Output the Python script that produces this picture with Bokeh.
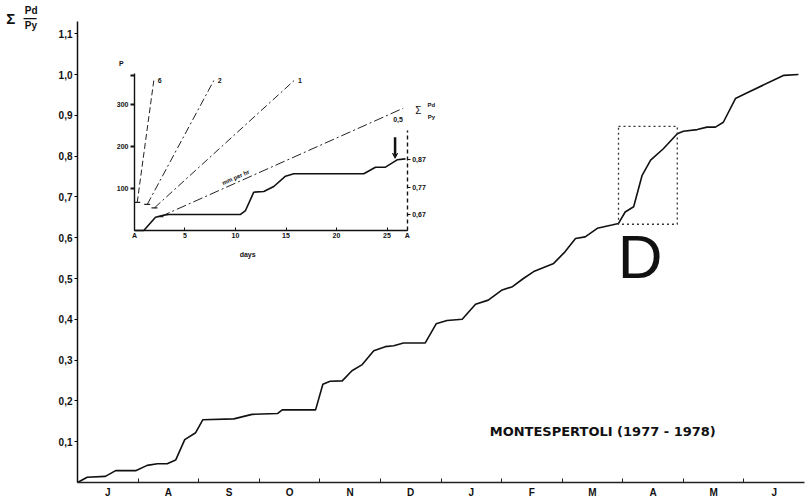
from bokeh.plotting import figure
from bokeh.models import (Range1d, FixedTicker, LinearAxis, Label, Arrow, VeeHead)
from bokeh.core.properties import value
from bokeh.embed import file_html
from bokeh.resources import INLINE

FONT = "Liberation Sans"
TITLE_FONT = "DejaVu Sans"
INK = "#111111"

# ---------------- data: main chart ----------------
months = ["J", "A", "S", "O", "N", "D", "J", "F", "M", "A", "M", "J"]
y_ticks = [0.1, 0.2, 0.3, 0.4, 0.5, 0.6, 0.7, 0.8, 0.9, 1.0, 1.1]
y_tick_labels = ["0,1", "0,2", "0,3", "0,4", "0,5", "0,6", "0,7", "0,8", "0,9", "1,0", "1,1"]

curve_month = [0.00, 0.16, 0.46, 0.63, 0.96, 1.15, 1.32, 1.48, 1.62, 1.77,
               1.95, 2.07, 2.58, 2.88, 3.30, 3.38, 3.93, 4.05, 4.17, 4.37,
               4.53, 4.70, 4.89, 5.08, 5.22, 5.38, 5.74, 5.92, 6.10, 6.35,
               6.57, 6.78, 7.01, 7.18, 7.36, 7.53, 7.86, 8.05, 8.22, 8.38,
               8.58, 8.82, 8.93, 9.04, 9.18, 9.32, 9.46, 9.67, 9.90, 10.00,
               10.23, 10.39, 10.53, 10.66, 10.86, 11.02, 11.66, 11.90]
curve_cum = [0.000, 0.013, 0.015, 0.029, 0.029, 0.042, 0.046, 0.046, 0.055, 0.105,
             0.122, 0.154, 0.156, 0.167, 0.169, 0.178, 0.178, 0.241, 0.248, 0.249,
             0.274, 0.289, 0.323, 0.333, 0.335, 0.342, 0.342, 0.389, 0.397, 0.400,
             0.437, 0.447, 0.472, 0.480, 0.500, 0.517, 0.537, 0.566, 0.598, 0.602,
             0.623, 0.631, 0.635, 0.663, 0.676, 0.753, 0.790, 0.818, 0.855, 0.861,
             0.865, 0.871, 0.871, 0.883, 0.941, 0.953, 0.998, 1.000]

box_month = [8.93, 9.90]
box_cum = [0.633, 0.873]
box_letter = "D"
station_title = "MONTESPERTOLI (1977 - 1978)"

# ---------------- data: inset ----------------
inset_day = [0.0, 0.92, 2.08, 2.74, 3.40, 10.50, 10.99, 11.81, 12.80, 13.79,
             14.95, 15.77, 22.70, 23.86, 24.85, 26.00, 26.83]
inset_P = [0.0, 0.0, 31.7, 35.7, 38.1, 38.1, 47.6, 91.2, 92.9, 104.8,
           129.3, 135.0, 135.0, 150.7, 150.7, 168.3, 170.6]

intensity_labels = ["6", "2", "1", "0,5"]
int_start_day = [0.27, 1.26, 1.98, 2.57]
int_start_P = [67.0, 62.0, 54.0, 33.0]
int_end_day = [1.91, 7.85, 15.80, 26.60]
int_end_P = [357.0, 357.0, 357.0, 291.0]

inset_P_ticks = [100, 200, 300, 370]
inset_P_labels = ["100", "200", "300", ""]
inset_day_ticks = [0, 5, 10, 15, 20, 25, 27]
inset_day_labels = ["A", "5", "10", "15", "20", "25", "A"]
sigma_ticks = [0.67, 0.77, 0.87]
sigma_labels = ["0,67", "0,77", "0,87"]

arrow_day = 25.8
arrow_top_P = 222.0
arrow_bottom_P = 172.0

# ---------------- figure (frame = whole canvas, axes at fixed locations) ----------------
p = figure(width=810, height=498,
           x_range=Range1d(-1.271, 12.099), y_range=Range1d(-0.0392, 1.1814),
           output_backend="svg", toolbar_location=None,
           min_border_left=0, min_border_right=0, min_border_top=0, min_border_bottom=0)
p.grid.visible = False
p.outline_line_color = None

# inset coordinate systems (placed inside the same canvas)
p.extra_x_ranges = {"days": Range1d(-13.267, 66.93)}
p.extra_y_ranges = {"P": Range1d(-638.1, 547.6), "sigma": Range1d(-0.3700, 1.4536)}

# main x axis
p.xaxis.fixed_location = 0
p.xaxis.bounds = (0, 12)
p.xaxis.ticker = FixedTicker(ticks=[i + 0.5 for i in range(len(months))],
                             minor_ticks=list(range(1, len(months))))
p.xaxis.major_label_overrides = {i + 0.5: m for i, m in enumerate(months)}
p.xaxis.major_tick_line_color = None
p.xaxis.major_tick_in = 0
p.xaxis.major_tick_out = 0
p.xaxis.minor_tick_in = 4
p.xaxis.minor_tick_out = 0
p.xaxis.minor_tick_line_color = "#222"
p.xaxis.major_label_standoff = 4
p.xaxis.axis_line_width = 1.3
p.xaxis.axis_line_color = "#222"

# main y axis
p.yaxis.fixed_location = 0
p.yaxis.bounds = (0, 1.13)
p.yaxis.ticker = FixedTicker(ticks=y_ticks)
p.yaxis.major_label_overrides = dict(zip(y_ticks, y_tick_labels))
p.yaxis.major_tick_in = 0
p.yaxis.major_tick_out = 3
p.yaxis.minor_tick_line_color = None
p.yaxis.major_label_standoff = 2
p.yaxis.axis_line_width = 1.5
p.yaxis.axis_line_color = INK

for ax in (p.xaxis[0], p.yaxis[0]):
    ax.major_label_text_font = FONT
    ax.major_label_text_font_style = "bold"
    ax.major_label_text_font_size = "10px"
    ax.major_label_text_color = INK

p.line(curve_month, curve_cum, line_color=INK, line_width=1.6)
p.quad(left=[box_month[0]], right=[box_month[1]], bottom=[box_cum[0]], top=[box_cum[1]],
       fill_alpha=0, line_color="#333", line_width=1.3, line_dash="2 3")

p.add_layout(Label(x=9.285, y=0.555, text=box_letter,
                   text_font=FONT, text_font_size="62px", text_align="center",
                   text_baseline="middle", text_color=INK))
p.add_layout(Label(x=8.67, y=0.126, text=station_title, text_font=TITLE_FONT,
                   text_font_style="bold", text_font_size="13px", text_align="center",
                   text_baseline="middle", text_color=INK))

# y-axis title (sum of Pd / Py)
p.add_layout(Label(x=-1.176, y=1.137, text="Σ", text_font=FONT, text_font_style="bold",
                   text_font_size="15px", text_baseline="middle", text_color=INK))
p.add_layout(Label(x=-0.87, y=1.157, text="Pd", text_font=FONT, text_font_style="bold",
                   text_font_size="10px", text_baseline="middle", text_color=INK))
p.add_layout(Label(x=-0.89, y=1.140, text="—", text_font=FONT, text_font_style="bold",
                   text_font_size="13px", text_baseline="middle", text_color=INK))
p.add_layout(Label(x=-0.87, y=1.121, text="Py", text_font=FONT, text_font_style="bold",
                   text_font_size="10px", text_baseline="middle", text_color=INK))

# ---------------- inset ----------------
ins_left = LinearAxis(x_range_name="days", y_range_name="P", fixed_location=0,
                      bounds=(0, 374), ticker=FixedTicker(ticks=inset_P_ticks))
ins_left.major_label_overrides = dict(zip(inset_P_ticks, inset_P_labels))
ins_left.major_tick_in = 0
ins_left.major_tick_out = 4
ins_left.major_tick_line_width = 2
p.add_layout(ins_left, "left")

ins_bottom = LinearAxis(x_range_name="days", y_range_name="P", fixed_location=0,
                        bounds=(0, 27), ticker=FixedTicker(ticks=inset_day_ticks))
ins_bottom.major_label_overrides = dict(zip(inset_day_ticks, inset_day_labels))
ins_bottom.major_tick_in = 3
ins_bottom.major_tick_out = 0
p.add_layout(ins_bottom, "below")

ins_right = LinearAxis(x_range_name="days", y_range_name="sigma", fixed_location=27,
                       bounds=(0.6114, 0.977), ticker=FixedTicker(ticks=sigma_ticks))
ins_right.major_label_overrides = dict(zip(sigma_ticks, sigma_labels))
ins_right.axis_line_dash = "4 3"
ins_right.major_tick_in = 0
ins_right.major_tick_out = 3
p.add_layout(ins_right, "right")

for ax in (ins_left, ins_bottom, ins_right):
    ax.minor_tick_line_color = None
    ax.major_label_text_font = FONT
    ax.major_label_text_font_style = "bold"
    ax.major_label_text_font_size = "7px"
    ax.major_label_text_color = INK
    ax.major_label_standoff = 2
    ax.axis_line_color = INK
    ax.axis_line_width = 1.4
    ax.major_tick_line_color = INK

line_styles = ["6 3", "8 3 2 3", "8 3 2 3", "10 3 2 3"]
for i in range(len(intensity_labels)):
    p.segment(x0=[int_start_day[i]], y0=[int_start_P[i]], x1=[int_end_day[i]],
              y1=[int_end_P[i]], line_color="#222", line_width=1.0,
              line_dash=line_styles[i], x_range_name="days", y_range_name="P")
p.scatter(int_start_day, int_start_P, marker="dash", size=6, line_color="#222",
          line_width=1.2, x_range_name="days", y_range_name="P")
p.text(x=int_end_day, y=int_end_P, text=intensity_labels,
       x_offset=[4, 4, 4, -10], y_offset=[0, 0, 0, 11],
       text_font=value(FONT), text_font_style="bold", text_font_size="7px",
       text_baseline="middle", text_color=INK, x_range_name="days", y_range_name="P")
p.text(x=[8.7], y=[112], text=["mm per hr"], angle=0.42,
       text_font=value(FONT), text_font_style="bold", text_font_size="6px",
       text_baseline="middle", text_color=INK, x_range_name="days", y_range_name="P")

p.line(inset_day, inset_P, line_color=INK, line_width=1.6,
       x_range_name="days", y_range_name="P")
p.add_layout(Arrow(end=VeeHead(size=5, line_color=INK, fill_color=INK),
                   x_start=arrow_day, y_start=arrow_top_P, x_end=arrow_day,
                   y_end=arrow_bottom_P, line_width=2.5, line_color=INK,
                   x_range_name="days", y_range_name="P"))

for txt, dx, dy, size, style in [("days", 11.2, -57, "7px", "bold"),
                                 ("P", -1.3, 398, "7px", "bold"),
                                 ("Σ", 28.1, 285, "10px", "normal"),
                                 ("Pd", 29.4, 299, "6px", "bold"),
                                 ("Py", 29.4, 270, "6px", "bold")]:
    p.add_layout(Label(x=dx, y=dy, text=txt, text_font=FONT, text_font_style=style,
                       text_font_size=size, text_align="center", text_baseline="middle",
                       text_color=INK, x_range_name="days", y_range_name="P"))

open("out.html", "w").write(file_html(p, INLINE))
